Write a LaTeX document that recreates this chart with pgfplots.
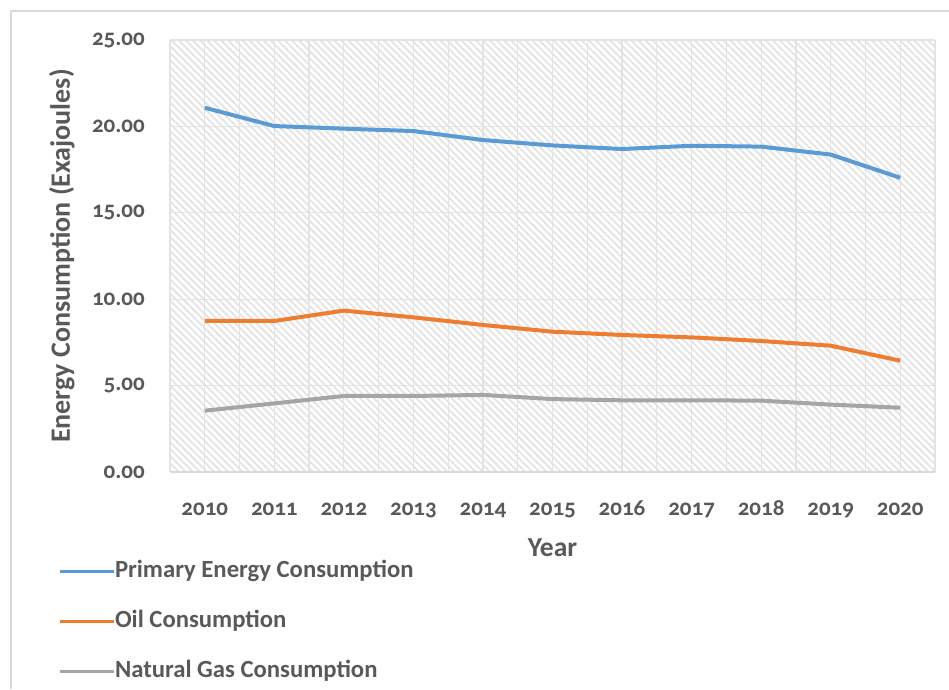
\documentclass[border=0pt]{standalone}
\usepackage{fontspec}
\setmainfont{Carlito}[Numbers=OldStyle]
\usepackage{pgfplots}
\pgfplotsset{compat=1.18}
\usetikzlibrary{patterns.meta}
\definecolor{cblue}{HTML}{5B9BD5}
\definecolor{corange}{HTML}{ED7D31}
\definecolor{cgray}{HTML}{A5A5A5}
\definecolor{txt}{HTML}{595959}
\definecolor{gridc}{HTML}{E3E3E3}
\definecolor{hatchc}{HTML}{E3E3E3}
\definecolor{framec}{HTML}{D9D9D9}
\begin{document}
\begin{tikzpicture}[x=1pt,y=1pt]
\useasboundingbox (0,0) rectangle (949,689);
\draw[color=framec, line width=1.5pt] (11,0) -- (11,678) -- (949,678);
\begin{axis}[
  at={(170pt,217pt)}, anchor=south west, scale only axis,
  width=765pt, height=432pt,
  xmin=2009.5, xmax=2020.5, ymin=0, ymax=25,
  xtick={2010,2011,2012,2013,2014,2015,2016,2017,2018,2019,2020},
  xticklabels={2010,2011,2012,2013,2014,2015,2016,2017,2018,2019,2020},
  minor xtick={2009.5,2010.5,2011.5,2012.5,2013.5,2014.5,2015.5,2016.5,2017.5,2018.5,2019.5,2020.5},
  ytick={0,5,10,15,20,25},
  yticklabel={\pgfmathprintnumber[fixed,fixed zerofill,precision=2,assume math mode=true]{\tick}},
  grid=both,
  major grid style={draw=gridc, line width=1.2pt},
  minor grid style={draw=gridc, line width=1.2pt},
  major tick length=0pt, minor tick length=0pt,
  axis line style={draw=none},
  axis background/.style={pattern={Lines[angle=-45,distance=5pt,line width=1.8pt]}, pattern color=hatchc},
  tick label style={font=\fontsize{23}{26}\selectfont\bfseries, text=txt},
  yticklabel style={anchor=east, inner sep=0pt, xshift=-25pt},
  xticklabel style={anchor=base, inner sep=0pt, yshift=-43pt},
  ylabel={Energy Consumption (Exajoules)},
  ylabel style={at={(axis description cs:-0.1412,0.5)}, anchor=center, font=\fontsize{28}{30}\selectfont\bfseries, text=txt},
  xlabel={Year},
  xlabel style={at={(axis description cs:0.5,-0.176)}, anchor=center, font=\fontsize{27.5}{30}\selectfont\bfseries, text=txt},
  legend style={at={(axis description cs:-0.1464,-0.206)}, anchor=north west, draw=none, fill=none,
    inner sep=0pt, outer sep=0pt, row sep=28pt,
    font=\fontsize{24.7}{28}\selectfont\bfseries, text=txt,
    nodes={inner sep=0pt, text height=17pt, text depth=5pt},
    /tikz/every even column/.append style={column sep=5pt}},
  legend cell align=left,
  legend image code/.code={\draw[#1, line width=3pt] (0pt,0pt) -- (54pt,0pt);},
]
\draw[framec, line width=2pt] (rel axis cs:0,0) -- (rel axis cs:1,0);
\addplot[cblue, line width=4pt, line join=round] coordinates {
(2010,21.08) (2011,20.02) (2012,19.87) (2013,19.73) (2014,19.21) (2015,18.90)
(2016,18.69) (2017,18.88) (2018,18.83) (2019,18.37) (2020,17.03)};
\addlegendentry{Primary Energy Consumption}
\addplot[corange, line width=4pt, line join=round] coordinates {
(2010,8.74) (2011,8.74) (2012,9.34) (2013,8.95) (2014,8.51) (2015,8.12)
(2016,7.93) (2017,7.79) (2018,7.58) (2019,7.31) (2020,6.44)};
\addlegendentry{Oil Consumption}
\addplot[cgray, line width=4pt, line join=round] coordinates {
(2010,3.55) (2011,3.97) (2012,4.40) (2013,4.40) (2014,4.46) (2015,4.22)
(2016,4.15) (2017,4.15) (2018,4.13) (2019,3.90) (2020,3.72)};
\addlegendentry{Natural Gas Consumption}
\end{axis}
\end{tikzpicture}
\end{document}
